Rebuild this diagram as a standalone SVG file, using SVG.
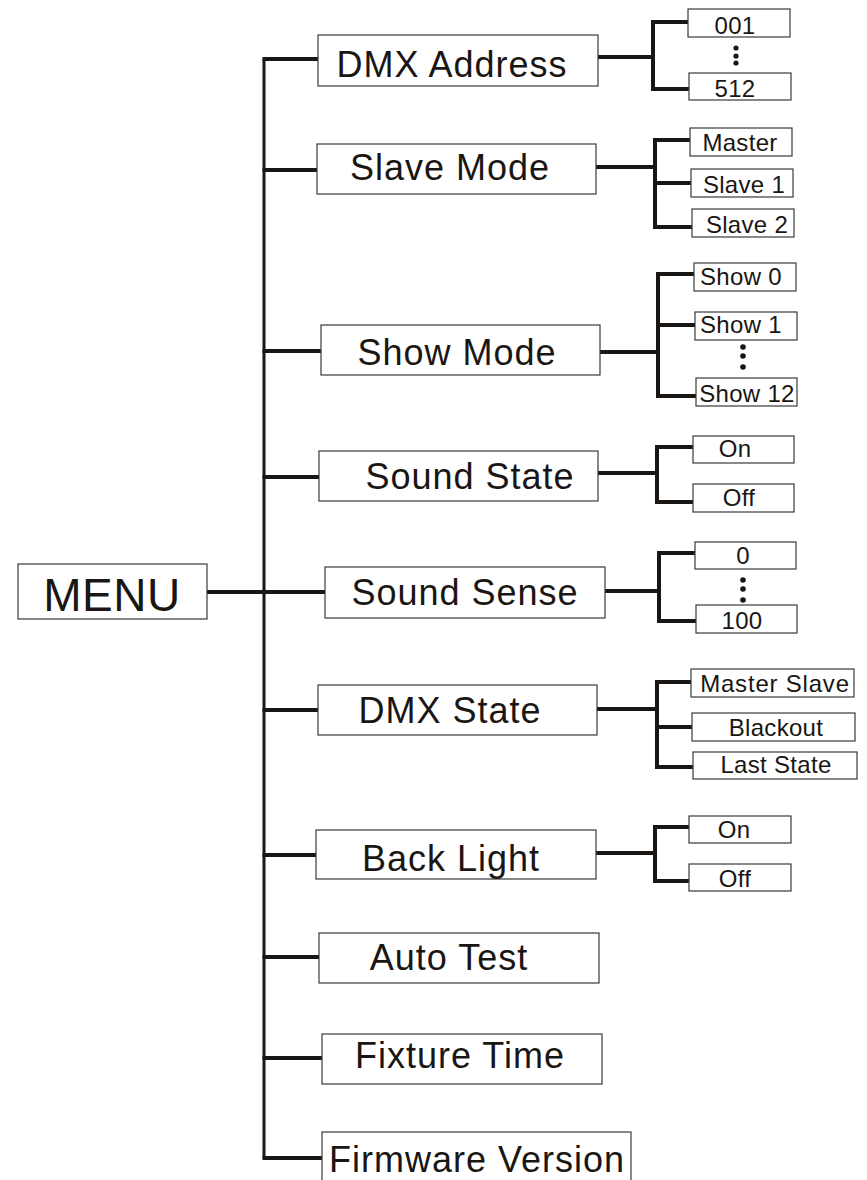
<svg xmlns="http://www.w3.org/2000/svg" width="867" height="1180" viewBox="0 0 867 1180">
<style>
.box{fill:#fff;stroke:#3a3a3a;stroke-width:1.2}
.t{font-family:"Liberation Sans",Arial,sans-serif;fill:#1a1613;text-anchor:middle}
.m{font-size:36px;letter-spacing:1px}
.s{font-size:24px;letter-spacing:0.3px}
.c{stroke:#1a1613;fill:none;stroke-width:4;stroke-linecap:butt}
.dot{fill:#1a1613}
</style>
<rect width="867" height="1180" fill="#fff"/>
<g id="connectors">
<path class="c" d="M264 59V1158" style="stroke-width:3"/>
<path class="c" d="M262.5 59H318M262.5 170H317M262.5 351H321M262.5 477H319M207 592H325M262.5 710H318M262.5 855H316M262.5 957H319M262.5 1058H322M262.5 1158H322"/>
<path class="c" d="M598 57H653M690 22H653V89H689"/>
<path class="c" d="M596 167H655M690 140H655V227H692M655 183H691"/>
<path class="c" d="M600 352H658M694 274H658V396H696M658 325H695"/>
<path class="c" d="M598 473H657M693 447H657V502H693"/>
<path class="c" d="M605 591H659M695 553H659V621H696" />
<path class="c" d="M597 709H657M691 682H657V767H693M657 727H692"/>
<path class="c" d="M596 853H655M689 827H655V881H689"/>
</g>
<g id="menu"><rect class="box" x="18" y="564" width="189" height="55"/><text class="t" x="112" y="611" style="font-size:46px;letter-spacing:0.5px">MENU</text></g>
<g id="dmx-address"><rect class="box" x="318" y="35" width="280" height="51"/><text class="t m" x="452" y="77">DMX Address</text></g>
<g id="slave-mode"><rect class="box" x="317" y="144" width="279" height="50"/><text class="t m" x="450" y="180">Slave Mode</text></g>
<g id="show-mode"><rect class="box" x="321" y="325" width="279" height="50"/><text class="t m" x="457" y="365">Show Mode</text></g>
<g id="sound-state"><rect class="box" x="319" y="451" width="279" height="50"/><text class="t m" x="470" y="489">Sound State</text></g>
<g id="sound-sense"><rect class="box" x="325" y="567" width="280" height="51"/><text class="t m" x="465" y="605">Sound Sense</text></g>
<g id="dmx-state"><rect class="box" x="318" y="685" width="279" height="50"/><text class="t m" x="450" y="723">DMX State</text></g>
<g id="back-light"><rect class="box" x="316" y="830" width="280" height="49"/><text class="t m" x="451" y="871">Back Light</text></g>
<g id="auto-test"><rect class="box" x="319" y="933" width="280" height="50"/><text class="t m" x="449" y="970">Auto Test</text></g>
<g id="fixture-time"><rect class="box" x="322" y="1034" width="280" height="50"/><text class="t m" x="460" y="1068">Fixture Time</text></g>
<g id="firmware-version"><rect class="box" x="322" y="1132" width="309" height="60"/><text class="t m" x="477" y="1172">Firmware Version</text></g>

<g id="addr-001"><rect class="box" x="688" y="9" width="102" height="28"/><text class="t s" x="735" y="34">001</text></g>
<g id="addr-dots"><circle class="dot" cx="736" cy="48" r="2.6"/><circle class="dot" cx="736" cy="56" r="2.6"/><circle class="dot" cx="736" cy="63" r="2.6"/></g>
<g id="addr-512"><rect class="box" x="689" y="73" width="102" height="27"/><text class="t s" x="735" y="97">512</text></g>

<g id="master"><rect class="box" x="690" y="128" width="102" height="28"/><text class="t s" x="740" y="151">Master</text></g>
<g id="slave1"><rect class="box" x="691" y="169" width="102" height="28"/><text class="t s" x="744" y="193">Slave 1</text></g>
<g id="slave2"><rect class="box" x="692" y="209" width="102" height="28"/><text class="t s" x="747" y="233">Slave 2</text></g>

<g id="show0"><rect class="box" x="694" y="263" width="102" height="28"/><text class="t s" x="741" y="285">Show 0</text></g>
<g id="show1"><rect class="box" x="695" y="312" width="102" height="28"/><text class="t s" x="741" y="333">Show 1</text></g>
<g id="show-dots"><circle class="dot" cx="743" cy="347" r="2.8"/><circle class="dot" cx="743" cy="356" r="2.8"/><circle class="dot" cx="743" cy="367" r="2.8"/></g>
<g id="show12"><rect class="box" x="696" y="378" width="101" height="28"/><text class="t s" x="747" y="402">Show 12</text></g>

<g id="ss-on"><rect class="box" x="693" y="436" width="101" height="27"/><text class="t s" x="735" y="457">On</text></g>
<g id="ss-off"><rect class="box" x="693" y="484" width="101" height="28"/><text class="t s" x="739" y="506">Off</text></g>

<g id="sense-0"><rect class="box" x="695" y="542" width="101" height="27"/><text class="t s" x="743" y="564">0</text></g>
<g id="sense-dots"><circle class="dot" cx="743" cy="580" r="2.8"/><circle class="dot" cx="743" cy="589" r="2.8"/><circle class="dot" cx="743" cy="600" r="2.8"/></g>
<g id="sense-100"><rect class="box" x="696" y="605" width="101" height="28"/><text class="t s" x="742" y="629">100</text></g>

<g id="master-slave"><rect class="box" x="691" y="669" width="163" height="28"/><text class="t s" x="775" y="692" style="letter-spacing:0.8px">Master Slave</text></g>
<g id="blackout"><rect class="box" x="692" y="713" width="163" height="28"/><text class="t s" x="776" y="736">Blackout</text></g>
<g id="last-state"><rect class="box" x="693" y="752" width="164" height="27"/><text class="t s" x="776" y="773">Last State</text></g>

<g id="bl-on"><rect class="box" x="689" y="816" width="102" height="27"/><text class="t s" x="734" y="838">On</text></g>
<g id="bl-off"><rect class="box" x="689" y="864" width="102" height="27"/><text class="t s" x="735" y="887">Off</text></g>
</svg>
